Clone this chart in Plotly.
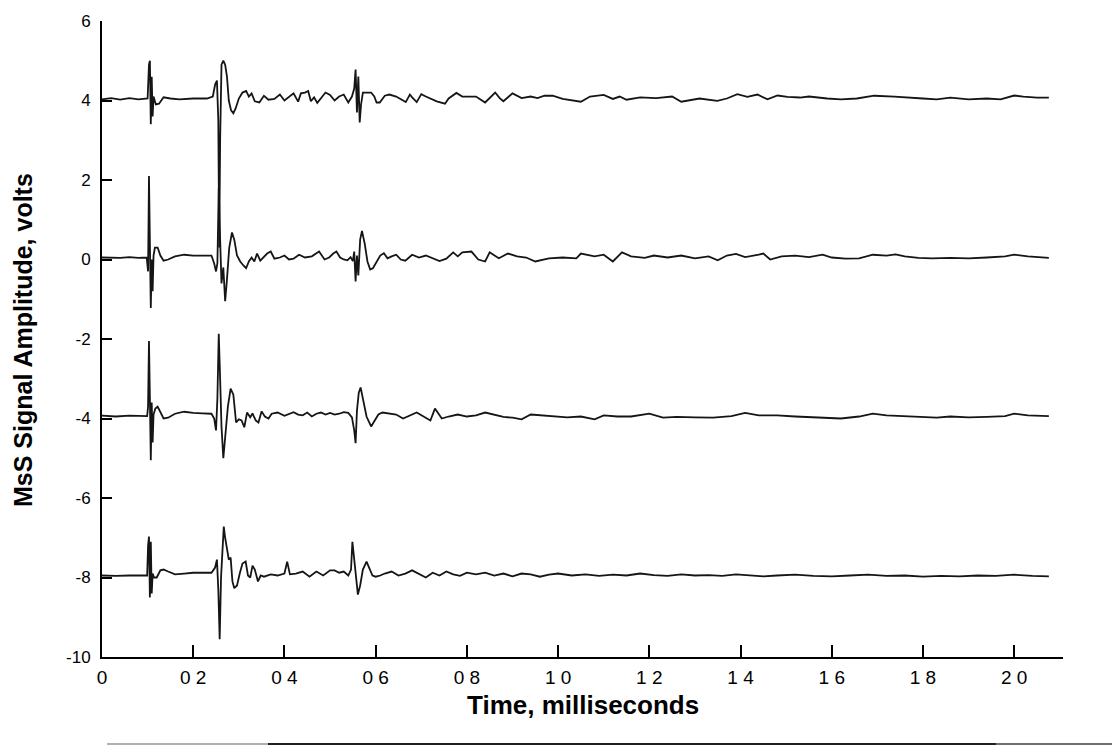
import plotly.graph_objects as go

# ---- data ----
t1_x = [0, 0.02, 0.04, 0.06, 0.08, 0.095, 0.100, 0.103, 0.105, 0.107, 0.109, 0.111, 0.113, 0.118, 0.125, 0.135,
        0.15, 0.17, 0.2, 0.23, 0.243, 0.248, 0.252, 0.255, 0.257, 0.259, 0.262, 0.266, 0.270, 0.274, 0.278, 0.283,
        0.288, 0.293, 0.300, 0.308, 0.316, 0.322, 0.328, 0.335, 0.345, 0.355, 0.365, 0.378, 0.39, 0.40, 0.41, 0.42,
        0.43, 0.436, 0.445, 0.452, 0.458, 0.465, 0.472, 0.482, 0.49, 0.50, 0.51, 0.52, 0.53, 0.54, 0.548,
        0.553, 0.556, 0.559, 0.562, 0.565, 0.568, 0.572, 0.58, 0.59, 0.597, 0.602, 0.609, 0.62, 0.63, 0.645,
        0.666, 0.675, 0.68, 0.69, 0.70, 0.71, 0.734, 0.752, 0.76, 0.777, 0.79, 0.82, 0.84, 0.862, 0.872, 0.88,
        0.9, 0.92, 0.94, 0.955, 0.97, 0.988, 1.01, 1.05, 1.07, 1.10, 1.12, 1.135, 1.15, 1.18, 1.215, 1.25,
        1.27, 1.31, 1.349, 1.37, 1.393, 1.415, 1.437, 1.459, 1.481, 1.503, 1.53, 1.55, 1.59, 1.62, 1.655,
        1.693, 1.737, 1.766, 1.8, 1.83, 1.86, 1.9, 1.94, 1.97, 2.0, 2.02, 2.05, 2.076]
t1_y = [4.03, 4.06, 4.02, 4.06, 4.03, 4.05, 4.05, 4.9, 5.0, 3.4, 4.6, 3.6, 4.1, 3.9, 3.92, 4.08,
        4.05, 4.03, 4.05, 4.05, 4.1, 4.4, 4.5, 3.5, 0.3, 3.0, 4.9, 5.0, 4.9, 4.6, 4.0, 3.75,
        3.68, 3.8, 4.05, 4.2, 4.24, 4.1, 4.18, 3.98, 3.95, 4.12, 4.02, 4.04, 4.15, 4.0, 4.08, 4.18,
        3.97, 4.18, 4.2, 4.24, 3.98, 4.08, 3.94, 4.1, 4.2, 4.14, 4.0, 4.1, 4.15, 3.95, 4.1,
        4.3, 4.78, 3.7, 4.6, 3.45, 3.9, 4.2, 4.2, 4.2, 4.1, 3.95, 3.95, 4.12, 4.15, 4.1,
        3.96, 4.15, 4.08, 3.96, 4.16, 4.1, 3.98, 3.92, 4.05, 4.19, 4.1, 4.1, 3.95, 4.2, 4.06, 3.98,
        4.18, 4.06, 4.1, 4.06, 4.12, 4.12, 4.04, 3.97, 4.1, 4.14, 4.04, 4.1, 4.02, 4.08, 4.06, 4.1,
        3.97, 4.05, 3.99, 4.05, 4.16, 4.09, 4.15, 4.03, 4.125, 4.09, 4.075, 4.1, 4.05, 4.03, 4.05,
        4.12, 4.1, 4.07, 4.05, 4.03, 4.07, 4.03, 4.05, 4.03, 4.125, 4.1, 4.07, 4.07]

t2_x = [0, 0.02, 0.04, 0.06, 0.08, 0.098, 0.101, 0.103, 0.105, 0.107, 0.109, 0.111, 0.113, 0.116, 0.122, 0.128,
        0.135, 0.145, 0.16, 0.18, 0.2, 0.22, 0.24, 0.246, 0.25, 0.253, 0.256, 0.259, 0.262, 0.266, 0.27, 0.274,
        0.279, 0.285, 0.29, 0.296, 0.303, 0.31, 0.316, 0.322, 0.328, 0.334, 0.34, 0.347, 0.355, 0.362, 0.37,
        0.378, 0.39, 0.40, 0.41, 0.42, 0.432, 0.445, 0.46, 0.476, 0.488, 0.498, 0.507, 0.514, 0.522, 0.53,
        0.538, 0.545, 0.55, 0.553, 0.556, 0.559, 0.562, 0.566, 0.57, 0.576, 0.582, 0.588, 0.594, 0.602, 0.61,
        0.618, 0.626, 0.635, 0.645, 0.655, 0.665, 0.68, 0.695, 0.71, 0.725, 0.74, 0.755, 0.77, 0.78, 0.79,
        0.81, 0.825, 0.84, 0.85, 0.87, 0.89, 0.91, 0.93, 0.95, 0.98, 1.01, 1.04, 1.05, 1.08, 1.10, 1.12,
        1.14, 1.16, 1.19, 1.21, 1.24, 1.27, 1.30, 1.33, 1.35, 1.37, 1.39, 1.41, 1.44, 1.45, 1.465, 1.49,
        1.52, 1.55, 1.58, 1.60, 1.63, 1.66, 1.69, 1.72, 1.74, 1.76, 1.79, 1.82, 1.86, 1.9, 1.94, 1.98,
        2.0, 2.03, 2.076]
t2_y = [0.05, 0.05, 0.04, 0.06, 0.04, 0.05, -0.3, 2.1, 0.5, -1.22, 0.0, -0.8, 0.1, 0.3, 0.3, 0.1,
        -0.03, 0.0, 0.08, 0.12, 0.1, 0.1, 0.1, -0.1, -0.3, -0.1, 1.8, 0.5, -0.6, -0.2, -1.05, -0.5,
        0.3, 0.68, 0.5, 0.1, -0.05, -0.15, -0.22, -0.05, 0.05, -0.05, 0.15, -0.03, 0.08, 0.15, 0.2,
        0.02, 0.05, 0.1, 0.0, 0.02, 0.12, 0.05, 0.08, 0.2, 0.0, 0.05, 0.15, 0.2, 0.05, 0.0,
        -0.02, 0.06, -0.04, 0.2, -0.55, 0.1, -0.4, 0.5, 0.72, 0.4, -0.05, -0.25, -0.22, -0.05, 0.1,
        0.16, 0.03, 0.08, 0.12, 0.0, -0.03, 0.12, 0.05, 0.1, 0.03, -0.04, 0.02, 0.18, 0.08, 0.18,
        0.2, 0.0, -0.05, 0.18, 0.03, 0.15, 0.08, 0.05, -0.05, 0.03, 0.05, 0.03, 0.15, 0.08, 0.12, -0.05,
        0.18, 0.08, 0.04, 0.1, 0.05, 0.1, 0.03, 0.08, -0.02, 0.1, 0.14, 0.06, 0.12, 0.15, 0.0, 0.08,
        0.1, 0.06, 0.12, 0.05, 0.02, 0.03, 0.12, 0.1, 0.13, 0.08, 0.04, 0.03, 0.04, 0.03, 0.05, 0.08,
        0.12, 0.08, 0.04]

t3_x = [0, 0.03, 0.06, 0.09, 0.099, 0.101, 0.103, 0.105, 0.107, 0.109, 0.111, 0.113, 0.117, 0.122, 0.128, 0.135,
        0.145, 0.16, 0.18, 0.2, 0.22, 0.24, 0.246, 0.25, 0.253, 0.256, 0.259, 0.262, 0.266, 0.27, 0.276, 0.282,
        0.288, 0.294, 0.3, 0.306, 0.312, 0.318, 0.325, 0.33, 0.337, 0.343, 0.35, 0.357, 0.365, 0.372, 0.385,
        0.4, 0.41, 0.42, 0.43, 0.44, 0.45, 0.46, 0.47, 0.48, 0.49, 0.5, 0.51, 0.52, 0.53, 0.54, 0.548,
        0.553, 0.556, 0.559, 0.563, 0.567, 0.572, 0.58, 0.59, 0.598, 0.606, 0.615, 0.63, 0.645, 0.66, 0.675,
        0.69, 0.705, 0.72, 0.73, 0.745, 0.76, 0.78, 0.8, 0.82, 0.84, 0.86, 0.88, 0.9, 0.92, 0.94, 0.96,
        0.98, 1.0, 1.02, 1.05, 1.08, 1.1, 1.13, 1.16, 1.2, 1.23, 1.26, 1.3, 1.34, 1.38, 1.41, 1.44,
        1.48, 1.52, 1.56, 1.6, 1.62, 1.66, 1.69, 1.72, 1.76, 1.8, 1.83, 1.86, 1.9, 1.94, 1.98, 2.0,
        2.03, 2.076]
t3_y = [-3.93, -3.95, -3.93, -3.94, -3.94, -3.7, -2.05, -3.5, -5.05, -3.6, -4.6, -3.9, -3.75, -3.7, -3.85, -4.0,
        -3.98, -3.88, -3.83, -3.86, -3.87, -3.88, -4.0, -4.3, -3.5, -1.87, -3.0, -4.2, -5.0, -4.4, -3.7, -3.25,
        -3.4, -4.1, -4.02, -4.05, -4.22, -3.85, -3.97, -3.87, -4.05, -4.1, -3.82, -3.95, -4.0, -3.88, -3.85,
        -3.93, -3.88, -3.84, -3.9, -3.92, -3.85, -3.95, -3.88, -3.85, -3.9, -3.86, -3.9, -3.88, -3.84, -3.86, -3.97,
        -4.3, -4.62, -3.8, -3.35, -3.22, -3.5, -3.95, -4.2, -4.05, -3.9, -3.85, -3.88, -3.9, -4.0, -3.92,
        -3.85, -3.95, -4.05, -3.75, -4.0, -3.95, -3.9, -3.95, -3.92, -3.85, -3.9, -3.96, -3.98, -4.02, -3.9, -3.92,
        -3.93, -3.95, -3.97, -3.95, -4.02, -3.92, -3.95, -3.95, -3.88, -3.98, -3.96, -3.97, -3.98, -3.94, -3.86, -3.92,
        -3.92, -3.95, -3.97, -3.98, -4.0, -3.95, -3.88, -3.92, -3.94, -3.95, -3.98, -3.95, -3.97, -3.96, -3.94, -3.88,
        -3.92, -3.94]

t4_x = [0, 0.03, 0.06, 0.09, 0.099, 0.101, 0.103, 0.105, 0.107, 0.109, 0.111, 0.114, 0.12, 0.128, 0.135, 0.145,
        0.16, 0.18, 0.2, 0.22, 0.24, 0.248, 0.252, 0.255, 0.258, 0.261, 0.264, 0.267, 0.27, 0.274, 0.278, 0.282,
        0.286, 0.29, 0.296, 0.302, 0.308, 0.315, 0.32, 0.325, 0.33, 0.335, 0.342, 0.348, 0.355, 0.37, 0.385,
        0.4, 0.406, 0.412, 0.425, 0.44, 0.455, 0.47, 0.485, 0.5, 0.51, 0.52, 0.53, 0.54, 0.546, 0.549,
        0.553, 0.557, 0.561, 0.566, 0.572, 0.58, 0.586, 0.593, 0.6, 0.61, 0.62, 0.635, 0.65, 0.665, 0.68,
        0.695, 0.71, 0.725, 0.74, 0.755, 0.77, 0.785, 0.8, 0.82, 0.84, 0.86, 0.88, 0.9, 0.92, 0.94, 0.96,
        0.98, 1.0, 1.03, 1.06, 1.09, 1.12, 1.15, 1.18, 1.21, 1.24, 1.27, 1.3, 1.33, 1.36, 1.39, 1.42,
        1.45, 1.48, 1.52, 1.56, 1.6, 1.64, 1.68, 1.72, 1.76, 1.8, 1.84, 1.88, 1.92, 1.96, 2.0, 2.04, 2.076]
t4_y = [-7.95, -7.96, -7.95, -7.96, -7.95, -7.2, -6.97, -8.5, -7.1, -8.4, -7.9, -8.0, -8.0, -7.82, -7.8, -7.85,
        -7.92, -7.9, -7.88, -7.88, -7.88, -7.75, -7.55, -8.3, -9.55, -8.0, -7.2, -6.72, -7.0, -7.3, -7.55, -7.5,
        -8.1, -8.27, -8.2, -7.9, -7.65, -7.6, -7.95, -8.0, -7.7, -7.8, -8.1, -7.95, -7.98, -7.92, -7.95,
        -7.9, -7.6, -7.92, -7.9, -7.85, -7.98, -7.85, -7.95, -7.82, -7.82, -7.88, -7.85, -7.95, -7.8, -7.1,
        -7.6, -8.0, -8.43, -8.2, -7.8, -7.6, -7.75, -7.95, -7.98, -7.95, -7.9, -7.85, -7.95, -7.9, -7.82,
        -7.92, -8.0, -7.88, -7.95, -7.85, -7.92, -7.96, -7.88, -7.92, -7.88, -7.95, -7.9, -7.97, -7.9, -7.92, -7.98,
        -7.93, -7.9, -7.95, -7.92, -7.96, -7.93, -7.95, -7.9, -7.94, -7.96, -7.92, -7.95, -7.94, -7.96, -7.92, -7.94,
        -7.97, -7.95, -7.93, -7.96, -7.97, -7.95, -7.93, -7.96, -7.95, -7.98, -7.96, -7.97, -7.95, -7.96, -7.93, -7.96, -7.97]

x_tickvals = [0, 0.2, 0.4, 0.6, 0.8, 1.0, 1.2, 1.4, 1.6, 1.8, 2.0]
x_ticktext = ["0", "0 2", "0 4", "0 6", "0 8", "1 0", "1 2", "1 4", "1 6", "1 8", "2 0"]
y_tickvals = [-10, -8, -6, -4, -2, 0, 2, 4, 6]
y_ticktext = ["-10", "-8", "-6", "-4", "-2", "0", "2", "4", "6"]

x_title = "Time, milliseconds"
y_title = "MsS Signal Amplitude, volts"

# ---- figure ----
FONT = "Liberation Sans, Arial, Helvetica, sans-serif"
fig = go.Figure()
for xs, ys in [(t1_x, t1_y), (t2_x, t2_y), (t3_x, t3_y), (t4_x, t4_y)]:
    fig.add_trace(go.Scatter(x=xs, y=ys, mode="lines",
                             line=dict(color="#151515", width=1.8),
                             showlegend=False, hoverinfo="skip"))

OFF = 8  # default page body margin
# plot-area edges in screen pixels
SL, SR, ST, SB = 102, 1063, 21, 657
L, R, T, B = SL - OFF, SR - OFF, ST - OFF, SB - OFF
W, H = 1120 - OFF, 747 - OFF

def px(xs):
    return (xs - SL) / (SR - SL)

def py(ys):
    return (SB - ys) / (SB - ST)

fig.update_layout(
    width=W, height=H,
    margin=dict(l=L, r=W - R, t=T, b=H - B, pad=0, autoexpand=False),
    paper_bgcolor="white", plot_bgcolor="white",
    font=dict(family=FONT, color="black"),
    xaxis=dict(range=[0, 2.107], tickvals=x_tickvals, ticktext=x_ticktext,
               ticks="inside", ticklen=12, tickwidth=1.5, tickcolor="black",
               showline=True, linecolor="black", linewidth=2,
               showgrid=False, zeroline=False, automargin=False,
               tickfont=dict(size=19, family=FONT, color="black"),
               ticklabelstandoff=2),
    yaxis=dict(range=[-10, 6], tickvals=y_tickvals, ticktext=y_ticktext,
               ticks="inside", ticklen=10, tickwidth=1.5, tickcolor="black",
               showline=True, linecolor="black", linewidth=2,
               showgrid=False, zeroline=False, automargin=False,
               tickfont=dict(size=17, family=FONT, color="black"),
               ticklabelstandoff=6),
    annotations=[
        dict(text=x_title, xref="paper", yref="paper", x=px(583), y=py(705),
             xanchor="center", yanchor="middle", showarrow=False,
             font=dict(size=26, family=FONT, color="black", weight="bold")),
        dict(text=y_title, xref="paper", yref="paper", x=px(23), y=py(340),
             xanchor="center", yanchor="middle", showarrow=False, textangle=-90,
             font=dict(size=25, family=FONT, color="black", weight="bold")),
    ],
    shapes=[
        dict(type="line", xref="paper", yref="paper", x0=px(107), x1=px(268), y0=py(744), y1=py(744),
             line=dict(color="#b0b0b0", width=2)),
        dict(type="line", xref="paper", yref="paper", x0=px(268), x1=px(996), y0=py(744), y1=py(744),
             line=dict(color="#202020", width=2)),
        dict(type="line", xref="paper", yref="paper", x0=px(996), x1=px(1112), y0=py(744), y1=py(744),
             line=dict(color="#707070", width=2)),
    ],
)

fig.write_html("out.html")
